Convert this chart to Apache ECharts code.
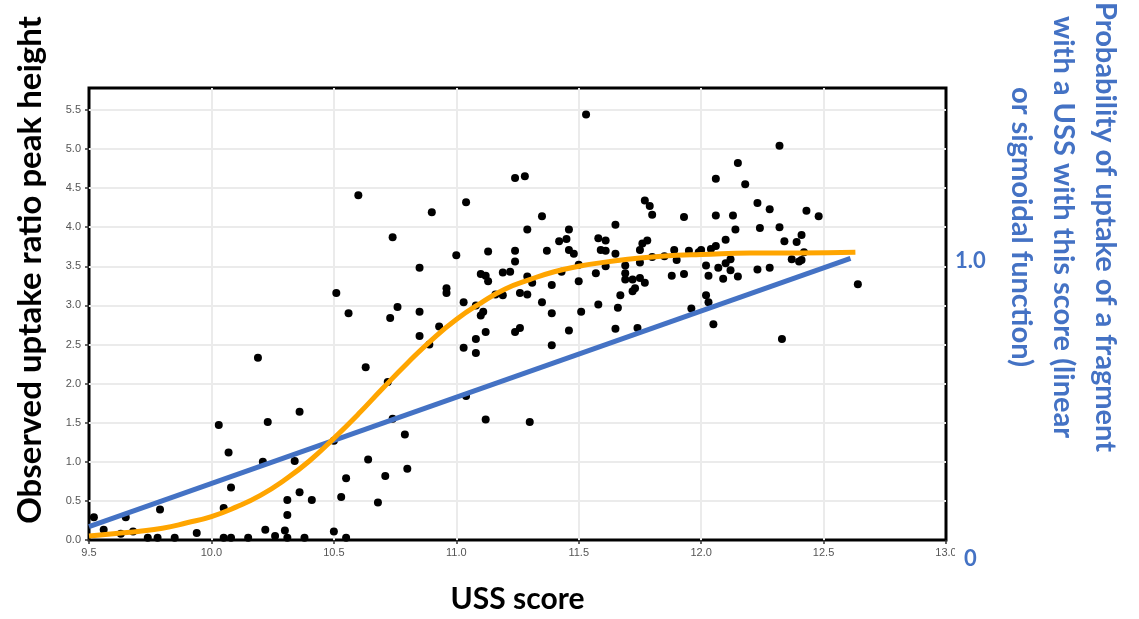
<!DOCTYPE html>
<html>
<head>
<meta charset="utf-8">
<script src="https://cdn.jsdelivr.net/npm/echarts@6/dist/echarts.min.js"></script>
<style>
  html, body { margin: 0; padding: 0; background: #fff; }
  #chart { width: 1139px; height: 619px; }
</style>
</head>
<body>
<div id="chart"></div>
<script>
// observed points (USS score, uptake ratio peak height)
const ussScore = [
  9.52, 9.56, 9.63, 9.65, 9.68, 9.74, 9.78, 9.79, 9.85, 9.94,
  10.03, 10.05, 10.05, 10.07, 10.08, 10.08, 10.15, 10.19, 10.21, 10.22,
  10.23, 10.26, 10.30, 10.31, 10.31, 10.31, 10.34, 10.36, 10.36, 10.38,
  10.41, 10.50, 10.50, 10.51, 10.53, 10.55, 10.55, 10.56, 10.60, 10.63,
  10.64, 10.68, 10.71, 10.72, 10.73, 10.74, 10.74, 10.76, 10.79, 10.80,
  10.85, 10.85, 10.85, 10.89, 10.90, 10.93, 10.96, 10.96, 11.00, 11.03,
  11.03, 11.04, 11.04, 11.08, 11.08, 11.08, 11.10, 11.10, 11.11, 11.12,
  11.12, 11.12, 11.13, 11.13, 11.16, 11.19, 11.19, 11.22, 11.24, 11.24,
  11.24, 11.24, 11.26, 11.26, 11.28, 11.29, 11.29, 11.29, 11.30, 11.31,
  11.35, 11.35, 11.37, 11.39, 11.39, 11.39, 11.42, 11.43, 11.45, 11.46,
  11.46, 11.46, 11.48, 11.50, 11.50, 11.51, 11.53, 11.57, 11.58, 11.58,
  11.59, 11.61, 11.61, 11.61, 11.65, 11.65, 11.65, 11.66, 11.67, 11.69,
  11.69, 11.69, 11.72, 11.72, 11.73, 11.74, 11.75, 11.75, 11.75, 11.76,
  11.77, 11.77, 11.78, 11.79, 11.80, 11.80, 11.85, 11.88, 11.89, 11.90,
  11.93, 11.93, 11.95, 11.96, 11.99, 12.00, 12.02, 12.02, 12.03, 12.03,
  12.04, 12.05, 12.06, 12.06, 12.06, 12.07, 12.09, 12.10, 12.10, 12.12,
  12.12, 12.13, 12.14, 12.15, 12.15, 12.18, 12.23, 12.23, 12.24, 12.28,
  12.28, 12.32, 12.32, 12.33, 12.34, 12.37, 12.39, 12.40, 12.41, 12.41,
  12.42, 12.43, 12.48, 12.64
];
const peakHeight = [
  0.29, 0.13, 0.08, 0.29, 0.11, 0.03, 0.03, 0.39, 0.03, 0.09,
  1.47, 0.41, 0.03, 1.12, 0.67, 0.03, 0.03, 2.33, 1.00, 0.13,
  1.51, 0.05, 0.12, 0.51, 0.32, 0.03, 1.01, 1.64, 0.61, 0.03,
  0.51, 1.27, 0.11, 3.16, 0.55, 0.79, 0.03, 2.90, 4.41, 2.21,
  1.03, 0.48, 0.82, 2.02, 2.84, 3.87, 1.55, 2.98, 1.35, 0.91,
  3.48, 2.92, 2.61, 2.50, 4.19, 2.73, 3.22, 3.16, 3.64, 3.04,
  2.46, 4.32, 1.84, 3.00, 2.57, 2.39, 3.40, 2.87, 2.92, 3.38,
  2.66, 1.54, 3.69, 3.31, 3.14, 3.42, 3.13, 3.43, 4.63, 3.70,
  3.56, 2.66, 3.16, 2.71, 4.65, 3.97, 3.37, 3.14, 1.51, 3.29,
  4.14, 3.04, 3.70, 3.26, 2.90, 2.49, 3.82, 3.43, 3.85, 3.97,
  3.71, 2.68, 3.66, 3.52, 3.31, 2.92, 5.44, 3.41, 3.86, 3.01,
  3.71, 3.83, 3.70, 3.50, 4.03, 3.66, 2.70, 2.97, 3.13, 3.51,
  3.41, 3.33, 3.33, 3.18, 3.22, 2.71, 3.71, 3.55, 3.35, 3.79,
  4.34, 3.29, 3.83, 4.27, 4.16, 3.62, 3.63, 3.38, 3.71, 3.58,
  4.13, 3.40, 3.70, 2.96, 3.68, 3.71, 3.51, 3.13, 3.38, 3.04,
  3.72, 2.76, 4.62, 4.15, 3.76, 3.48, 3.34, 3.84, 3.54, 3.59,
  3.45, 4.15, 3.97, 4.82, 3.37, 4.55, 4.31, 3.46, 3.99, 4.23,
  3.48, 5.04, 4.00, 2.57, 3.82, 3.59, 3.81, 3.56, 3.90, 3.58,
  3.68, 4.21, 4.14, 3.27
];

// sigmoidal fit (orange)
const sigmoidScore = [9.5, 9.6, 9.7, 9.8, 9.9, 10.0, 10.1, 10.2, 10.3, 10.4, 10.5, 10.6, 10.7, 10.8, 10.9,
  11.0, 11.1, 11.2, 11.3, 11.4, 11.5, 11.6, 11.7, 11.8, 11.9, 12.0, 12.2, 12.4, 12.63];
const sigmoidHeight = [0.05, 0.08, 0.11, 0.15, 0.22, 0.30, 0.42, 0.57, 0.77, 1.01, 1.30, 1.61, 1.94, 2.26, 2.56,
  2.82, 3.03, 3.21, 3.33, 3.43, 3.50, 3.55, 3.59, 3.62, 3.64, 3.65, 3.67, 3.67, 3.68];

// linear fit (blue)
const linearScore = [9.5, 12.61];
const linearHeight = [0.17, 3.6];

// right-hand probability axis labels
const probTicks = [0, 1];
const probLabels = ['0', '1.0'];

const BLUE = '#4472C4';
const ORANGE = '#FFA500';
const TITLE_FONT = 'Lato, "Open Sans", sans-serif';

const chart = echarts.init(document.getElementById('chart'));

const option = {
  animation: false,
  grid: {
    left: 89,
    right: 193,
    top: 88,
    bottom: 78,
    show: true,
    borderColor: '#000',
    borderWidth: 3
  },
  xAxis: {
    type: 'value',
    min: 9.5,
    max: 13,
    interval: 0.5,
    name: 'USS score',
    nameLocation: 'middle',
    nameGap: 44,
    nameTextStyle: { fontSize: 30, fontWeight: 'bold', color: '#000', fontFamily: TITLE_FONT },
    axisLine: { show: false },
    axisTick: { show: true, length: 4, lineStyle: { color: '#333', width: 1.5 } },
    axisLabel: {
      margin: 7,
      fontSize: 11,
      color: '#555',
      fontFamily: '"Liberation Sans", Arial, sans-serif',
      formatter: (v) => v.toFixed(1)
    },
    splitLine: { show: true, showMinLine: false, showMaxLine: false, lineStyle: { color: '#ebebeb', width: 2 } }
  },
  yAxis: [
    {
      type: 'value',
      min: 0,
      max: 5.78,
      interval: 0.5,
      axisLine: { show: false },
      axisTick: { show: true, length: 4, lineStyle: { color: '#333', width: 1.5 } },
      axisLabel: {
        margin: 8,
        fontSize: 11,
        color: '#555',
        fontFamily: '"Liberation Sans", Arial, sans-serif',
        showMaxLabel: false,
        formatter: (v) => (Math.abs(v / 0.5 - Math.round(v / 0.5)) < 1e-6 ? v.toFixed(1) : '')
      },
      splitLine: { show: true, showMinLine: false, showMaxLine: false, lineStyle: { color: '#ebebeb', width: 2 } }
    },
    {
      type: 'value',
      position: 'right',
      min: 0,
      max: 1.618,
      interval: 1,
      z: 10,
      axisLine: { show: false },
      axisTick: { show: false },
      splitLine: { show: false },
      axisLabel: {
        margin: 9,
        showMaxLabel: false,
        formatter: (v) => {
          const i = probTicks.indexOf(v);
          if (i < 0) return '';
          return i === 0 ? '{z|' + probLabels[i] + '}' : '{o|' + probLabels[i] + '}';
        },
        rich: {
          o: { color: BLUE, fontSize: 22, fontWeight: 'bold', fontFamily: TITLE_FONT },
          z: { color: BLUE, fontSize: 22, fontWeight: 'bold', fontFamily: TITLE_FONT,
               padding: [38, 0, 0, 9], backgroundColor: '#fff' }
        }
      }
    }
  ],
  graphic: [
    {
      type: 'text',
      x: 30,
      y: 270,
      rotation: Math.PI / 2,
      style: {
        text: 'Observed uptake ratio peak height',
        font: 'bold 33px ' + TITLE_FONT,
        fill: '#000',
        align: 'center',
        verticalAlign: 'middle',
        textAlign: 'center',
        textVerticalAlign: 'middle'
      }
    },
    {
      type: 'text',
      x: 1063,
      y: 227,
      rotation: -Math.PI / 2,
      style: {
        text: 'Probability of uptake of a fragment\nwith a USS with this score (linear\nor sigmoidal function)',
        font: 'bold 29px ' + TITLE_FONT,
        lineHeight: 42,
        fill: BLUE,
        align: 'center',
        verticalAlign: 'middle',
        textAlign: 'center',
        textVerticalAlign: 'middle'
      }
    }
  ],
  series: [
    {
      name: 'observed',
      type: 'scatter',
      symbolSize: 8,
      itemStyle: { color: '#000', opacity: 1 },
      z: 2,
      data: ussScore.map((x, i) => [x, peakHeight[i]])
    },
    {
      name: 'linear',
      type: 'line',
      showSymbol: false,
      lineStyle: { color: BLUE, width: 5 },
      z: 3,
      data: linearScore.map((x, i) => [x, linearHeight[i]])
    },
    {
      name: 'sigmoidal',
      type: 'line',
      smooth: true,
      showSymbol: false,
      lineStyle: { color: ORANGE, width: 5 },
      z: 4,
      data: sigmoidScore.map((x, i) => [x, sigmoidHeight[i]])
    }
  ]
};

chart.setOption(option);
</script>
</body>
</html>
